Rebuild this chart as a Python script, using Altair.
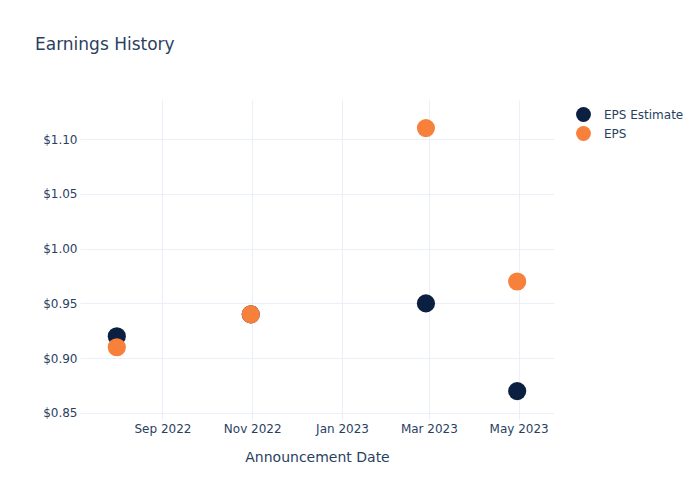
import altair as alt
import pandas as pd

dates = ["2022-08-01", "2022-10-31", "2023-02-27", "2023-04-30"]
eps_estimate = [0.92, 0.94, 0.95, 0.87]
eps_actual = [0.91, 0.94, 1.11, 0.97]
series_names = ["EPS Estimate", "EPS"]
series_colors = ["#0b1f41", "#f7813a"]

rows = []
for d, v in zip(dates, eps_estimate):
    rows.append({"date": d, "value": v, "series": series_names[0]})
for d, v in zip(dates, eps_actual):
    rows.append({"date": d, "value": v, "series": series_names[1]})
df = pd.DataFrame(rows)

TXT = "#2a3f5f"
GRID = "#ebf0f8"
FONT = "DejaVu Sans"

tick_vals = [
    alt.DateTime(year=2022, month=9, date=1, utc=True),
    alt.DateTime(year=2022, month=11, date=1, utc=True),
    alt.DateTime(year=2023, month=1, date=1, utc=True),
    alt.DateTime(year=2023, month=3, date=1, utc=True),
    alt.DateTime(year=2023, month=5, date=1, utc=True),
]

chart = (
    alt.Chart(df)
    .mark_circle(size=330, opacity=1)
    .encode(
        x=alt.X(
            "date:T",
            title="Announcement Date",
            scale=alt.Scale(type="utc", domain=["2022-07-07", "2023-05-25"], nice=False),
            axis=alt.Axis(
                values=tick_vals,
                labelExpr="utcFormat(datum.value, '%b %Y')",
                labelFontSize=12,
                labelColor=TXT,
                titleFontSize=14,
                titleColor=TXT,
                titleFontWeight="normal",
                titlePadding=16,
                labelPadding=3,
                ticks=False,
                domain=False,
                gridColor=GRID,
                labelFont=FONT,
                titleFont=FONT,
            ),
        ),
        y=alt.Y(
            "value:Q",
            title=None,
            scale=alt.Scale(domain=[0.8436, 1.1356], nice=False, zero=False),
            axis=alt.Axis(
                values=[0.85, 0.90, 0.95, 1.00, 1.05, 1.10],
                format="$.2f",
                labelFontSize=12,
                labelColor=TXT,
                labelPadding=3,
                ticks=False,
                domain=False,
                gridColor=GRID,
                labelFont=FONT,
            ),
        ),
        color=alt.Color(
            "series:N",
            scale=alt.Scale(domain=series_names, range=series_colors),
            legend=alt.Legend(
                title=None,
                orient="none",
                legendX=495,
                legendY=6,
                symbolType="circle",
                symbolSize=220,
                labelFontSize=12,
                labelColor=TXT,
                labelFont=FONT,
                labelOffset=12,
                rowPadding=3,
            ),
        ),
    )
    .properties(
        width=474,
        height=320,
        background="white",
        title=alt.TitleParams(
            "Earnings History",
            anchor="start",
            frame="group",
            fontSize=17,
            fontWeight="normal",
            color=TXT,
            font=FONT,
            dx=-45,
            offset=46,
        ),
        autosize=alt.AutoSizeParams(type="none"),
        padding={"left": 80, "top": 100, "right": 146, "bottom": 80},
    )
    .configure_view(stroke="transparent", strokeWidth=0)
)

chart.save("out.html", embed_options={"renderer": "svg", "actions": False})
